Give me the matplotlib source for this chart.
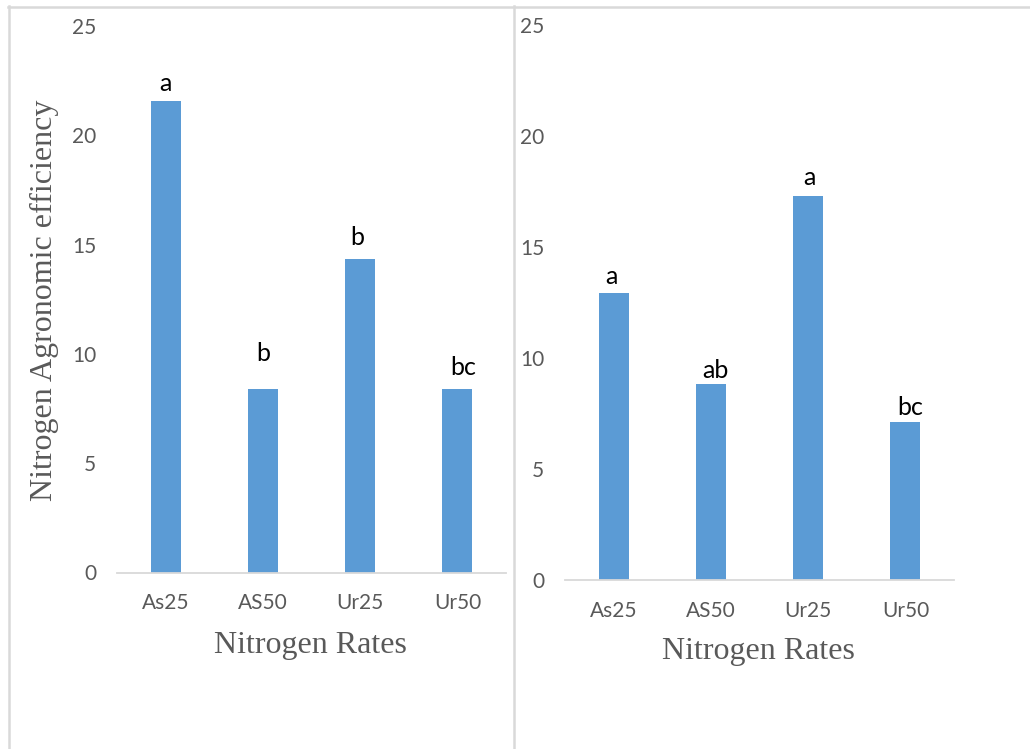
import matplotlib
matplotlib.use("Agg")
import matplotlib.pyplot as plt
from matplotlib.lines import Line2D

# Data
categories = ["As25", "AS50", "Ur25", "Ur50"]
left_values = [21.55, 8.40, 14.33, 8.40]
right_values = [12.91, 8.81, 17.31, 7.13]
left_letters = ["a", "b", "b", "bc"]
right_letters = ["a", "ab", "a", "bc"]
y_ticks = [0, 5, 10, 15, 20, 25]

# Letter placement (pixel offsets above each bar top)
left_letter_dy = [10, 28, 14, 14]
left_letter_dx = [0, 0, -3, 6]
right_letter_dy = [9, 6, 11, 7]
right_letter_dx = [-2, 5, 1, 5]

BAR = "#5B9BD5"
GRAY = "#595959"
FRAME = "#D9D9D9"

W, H = 1030, 749
fig = plt.figure(figsize=(W / 100, H / 100), dpi=100)
fig.patch.set_facecolor("white")


def px_axes(x0, x1, y_zero, y_top):
    return fig.add_axes([x0 / W, (H - y_zero) / H, (x1 - x0) / W, (y_zero - y_top) / H])


def draw_panel(ax, values, letters, dys, dxs):
    x = range(len(categories))
    ax.bar(x, values, width=0.31, color=BAR, edgecolor="none", zorder=2)
    ax.set_xlim(-0.5, len(categories) - 0.5)
    ax.set_ylim(0, 25)
    ax.set_yticks(y_ticks)
    ax.set_yticklabels([str(t) for t in y_ticks], family="Lato", fontsize=15, color=GRAY)
    ax.set_xticks(list(x))
    ax.set_xticklabels(categories, family="Lato", fontsize=15, color=GRAY)
    ax.tick_params(axis="y", length=0, pad=15)
    ax.tick_params(axis="x", length=0, pad=15)
    for s in ("top", "right", "left"):
        ax.spines[s].set_visible(False)
    ax.spines["bottom"].set_color(FRAME)
    ax.spines["bottom"].set_linewidth(1.3)
    ax.set_facecolor("none")
    for i, (v, lab) in enumerate(zip(values, letters)):
        ax.annotate(lab, xy=(i, v), xytext=(dxs[i] * 0.72, dys[i] * 0.72),
                    textcoords="offset points", ha="center", va="baseline",
                    family="Lato", fontsize=18, color="black")


ax_l = px_axes(117, 506, 572.5, 26)
draw_panel(ax_l, left_values, left_letters, left_letter_dy, left_letter_dx)
ax_r = px_axes(565, 954, 580, 25)
draw_panel(ax_r, right_values, right_letters, right_letter_dy, right_letter_dx)

# Axis titles
fig.text(310 / W, 1 - 645 / H, "Nitrogen Rates", family="Liberation Serif",
         fontsize=23, color=GRAY, ha="center", va="center")
fig.text(758 / W, 1 - 651 / H, "Nitrogen Rates", family="Liberation Serif",
         fontsize=23, color=GRAY, ha="center", va="center")
fig.text(44 / W, 1 - 300 / H, "Nitrogen Agronomic efficiency", family="Liberation Serif",
         fontsize=23, color=GRAY, ha="center", va="center", rotation=90)

# Chart frames
frame_lines = [
    ((8, 1030), (6.5, 6.5)),
    ((8.5, 8.5), (6, 749)),
    ((513.5, 513.5), (6, 749)),
]
for xs, ys in frame_lines:
    fig.add_artist(Line2D([xs[0] / W, xs[1] / W], [1 - ys[0] / H, 1 - ys[1] / H],
                          transform=fig.transFigure, color=FRAME, linewidth=1.8))

fig.savefig("out.png", dpi=100, facecolor="white")
